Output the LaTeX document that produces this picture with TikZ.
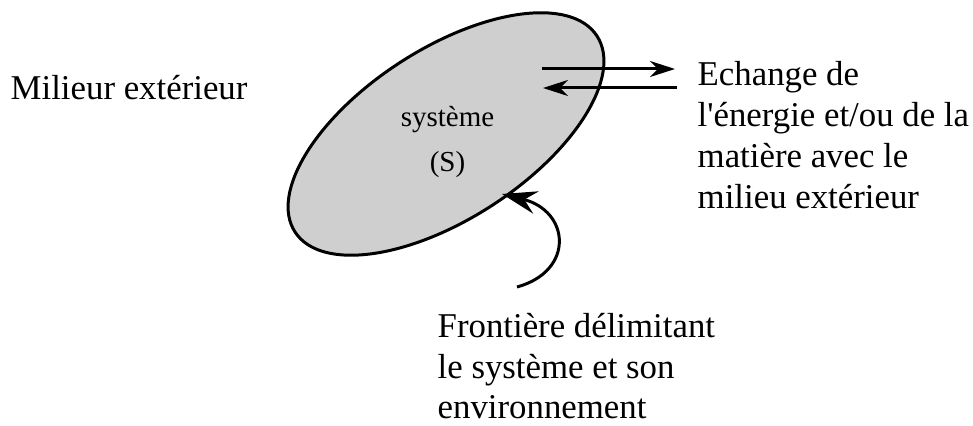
\documentclass[tikz,border=0pt]{standalone}
\usepackage{fontspec}
\setmainfont{Liberation Serif}
\usetikzlibrary{shapes.geometric, positioning, arrows.meta}

\begin{document}
\begin{tikzpicture}[
        thick,
        >={Stealth[length=5mm, width=3.2mm, inset=1.6mm]},
        label/.style={font=\fontsize{19.8}{23.2}\selectfont, align=left, inner sep=0pt},
        inner/.style={font=\fontsize{16.5}{19}\selectfont, inner sep=0pt},
        flow/.style={->, line width=1.7pt}
    ]
    \useasboundingbox (0,0) rectangle (19.46,8.52);

    % The system and its boundary
    \node[ellipse, rotate=33, minimum width=7.2cm, minimum height=3.4cm, draw, line width=1.7pt, fill=black!19] (syst) at (8.92,5.84) {};
    \node[inner] (sysname) at (8.95,6.12) {système};
    \node[inner, below=0.34cm of sysname] (sysS) {(S)};

    % Outside labels
    \node[label, anchor=west] (outside) at (0.2,6.76) {Milieur extérieur};
    \node[label, anchor=north west] (exchange) at (13.94,7.30) {Echange de\\l\textquotesingle énergie et/ou de la\\matière avec le\\milieu extérieur};
    \node[label, anchor=north west] (border) at (8.74,2.27) {Frontière délimitant\\le système et son\\environnement};

    % Arrow ends
    \coordinate (outA) at (10.84,7.14);
    \coordinate (outB) at (13.5,7.14);
    \coordinate (inA) at (13.54,6.76);
    \coordinate (inB) at (10.86,6.76);
    \coordinate (tail) at (10.34,2.78);
    \coordinate (hit) at (10.04,4.64);

    % Exchange arrows
    \draw[flow] (outA) -- (outB);
    \draw[flow] (inA) -- (inB);
    \draw[flow, -{Stealth[length=7mm, width=4.6mm, inset=2.4mm]}] (tail) .. controls (11.5,3.1) and (11.4,4.3) .. (hit);

\end{tikzpicture}
\end{document}
